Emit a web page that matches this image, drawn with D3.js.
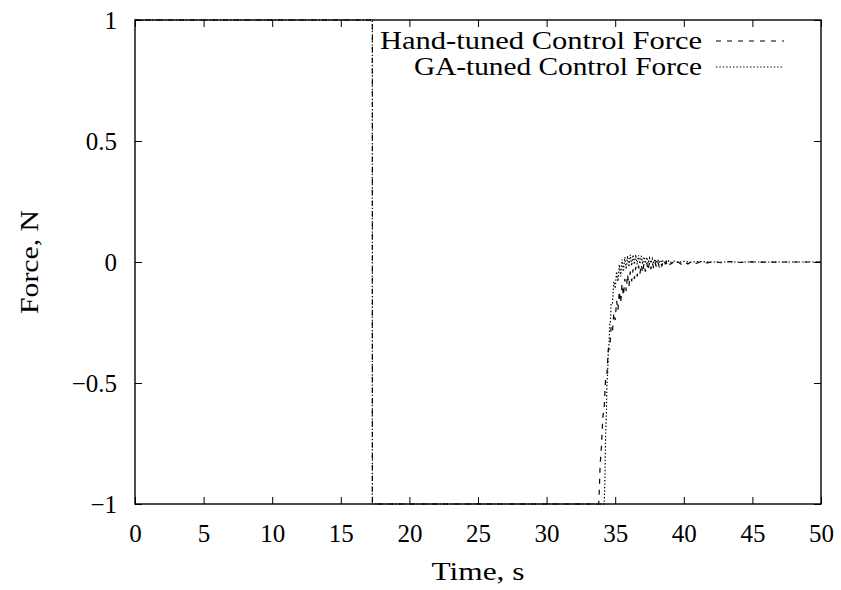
<!DOCTYPE html>
<html>
<head>
<meta charset="utf-8">
<script src="https://cdn.jsdelivr.net/npm/d3@7"></script>
<style>
  html, body { margin: 0; padding: 0; background: #fff; }
  svg { display: block; }
  text { font-family: "Liberation Serif", "DejaVu Serif", serif; fill: #000; }
</style>
</head>
<body>
<svg id="chart" width="841" height="590"></svg>
<script>
// ---- data ----
const xTicks = [0, 5, 10, 15, 20, 25, 30, 35, 40, 45, 50];
const yTicks = [-1, -0.5, 0, 0.5, 1];
const yTickLabels = ["\u22121", "\u22120.5", "0", "0.5", "1"];
const seriesNames = ["Hand-tuned Control Force", "GA-tuned Control Force"];

const handTime = [0, 17.3, 17.3, 33.8, 33.85, 33.9, 34.0, 34.1, 34.2, 34.3, 34.4, 34.5, 34.6, 34.7, 34.8, 34.9,
  35.0, 35.1, 35.2, 35.3, 35.4, 35.5, 35.6, 35.7, 35.8, 35.9, 36.0, 36.1, 36.2, 36.3, 36.4, 36.5, 36.6, 36.7,
  36.8, 36.9, 37.0, 37.1, 37.2, 37.3, 37.4, 37.5, 37.6, 37.7, 37.8, 37.9, 38.0, 38.1, 38.2, 38.3, 38.4, 38.5,
  38.6, 38.7, 38.8, 38.9, 39.0, 39.2, 39.4, 39.6, 39.8, 40.0, 40.3, 40.6, 40.9, 41.3, 41.7, 42.2, 42.7, 43.3,
  44.0, 45.0, 46.0, 47.0, 50.0];
const handForce = [1, 1, -1, -1, -0.93, -0.84, -0.76, -0.64, -0.60, -0.48, -0.46, -0.36, -0.36, -0.27, -0.29, -0.21,
  -0.24, -0.16, -0.20, -0.12, -0.17, -0.09, -0.14, -0.07, -0.12, -0.05, -0.10, -0.04, -0.08, -0.03, -0.07, -0.02, -0.06, -0.015,
  -0.05, -0.01, -0.045, -0.005, -0.04, -0.005, -0.035, 0.0, -0.03, 0.0, -0.025, 0.0, -0.02, 0.002, -0.018, 0.0, -0.016, 0.0,
  -0.014, 0.0, -0.012, 0.0, -0.01, -0.002, -0.012, 0.0, -0.009, 0.002, -0.008, 0.003, -0.006, 0.003, -0.004, 0.002, -0.003, 0.002,
  -0.002, 0.001, -0.001, 0, 0];

const gaTime = [0, 17.3, 17.3, 34.2, 34.25, 34.3, 34.35, 34.4, 34.45, 34.5, 34.55, 34.6, 34.65, 34.7, 34.8, 34.9,
  35.0, 35.1, 35.2, 35.3, 35.4, 35.5, 35.6, 35.7, 35.8, 35.9, 36.0, 36.1, 36.2, 36.3, 36.4, 36.5, 36.6, 36.7,
  36.8, 36.9, 37.0, 37.1, 37.2, 37.3, 37.4, 37.5, 37.6, 37.7, 37.8, 37.9, 38.0, 38.1, 38.2, 38.3, 38.4, 38.5,
  38.6, 38.7, 38.8, 38.9, 39.0, 39.3, 39.6, 40.0, 40.5, 41.0, 42.0, 50.0];
const gaForce = [1, 1, -1, -1, -0.9, -0.72, -0.64, -0.50, -0.46, -0.36, -0.34, -0.25, -0.25, -0.17, -0.17, -0.08,
  -0.11, -0.04, -0.08, -0.01, -0.06, 0.01, -0.04, 0.02, -0.03, 0.025, -0.02, 0.03, -0.015, 0.03, -0.01, 0.03, -0.01, 0.028,
  -0.008, 0.025, -0.008, 0.022, -0.006, 0.02, -0.006, 0.016, -0.005, 0.014, -0.004, 0.012, -0.004, 0.01, -0.003, 0.008, -0.003, 0.007,
  -0.002, 0.006, -0.002, 0.005, -0.002, 0.004, -0.002, 0.003, -0.001, 0.002, 0, 0];

// ---- layout ----
const svg = d3.select("#chart");
const L = 135, R = 821, T = 20, B = 504;
const x = d3.scaleLinear().domain([0, 50]).range([L, R]);
const y = d3.scaleLinear().domain([-1, 1]).range([B, T]);
const fs = 25;
const tickLen = 7;

// series lines
const line = d3.line().x(d => x(d[0])).y(d => y(d[1]));
const handData = handTime.map((t, i) => [t, handForce[i]]);
const gaData = gaTime.map((t, i) => [t, gaForce[i]]);

svg.append("path").datum(handData).attr("d", line)
  .attr("fill", "none").attr("stroke", "#000").attr("stroke-width", 1.2)
  .attr("stroke-dasharray", "5,6");
svg.append("path").datum(gaData).attr("d", line)
  .attr("fill", "none").attr("stroke", "#000").attr("stroke-width", 1.2)
  .attr("stroke-dasharray", "1.4,2");

// axes (ticks inward, mirrored)
const axB = d3.axisBottom(x).tickValues(xTicks).tickSize(-tickLen).tickPadding(20).tickFormat(d3.format("d"));
const axT = d3.axisTop(x).tickValues(xTicks).tickSize(-tickLen).tickFormat("");
const axL = d3.axisLeft(y).tickValues(yTicks).tickSize(-tickLen).tickPadding(18)
  .tickFormat((d, i) => yTickLabels[i]);
const axR = d3.axisRight(y).tickValues(yTicks).tickSize(-tickLen).tickFormat("");

function style(g) {
  g.select(".domain").remove();
  g.selectAll(".tick line").attr("stroke", "#000").attr("stroke-width", 1);
  g.selectAll(".tick text").style("font-size", fs + "px")
    .style("font-family", "'Liberation Serif', serif").attr("fill", "#000");
}
svg.append("g").attr("transform", `translate(0,${B})`).call(axB).call(style);
svg.append("g").attr("transform", `translate(0,${T})`).call(axT).call(style);
svg.append("g").attr("transform", `translate(${L},0)`).call(axL).call(style);
svg.append("g").attr("transform", `translate(${R},0)`).call(axR).call(style);

// frame
svg.append("rect").attr("x", L).attr("y", T).attr("width", R - L).attr("height", B - T)
  .attr("fill", "none").attr("stroke", "#000").attr("stroke-width", 1.4);

// axis titles
svg.append("text").attr("x", 478).attr("y", 580).attr("text-anchor", "middle")
  .attr("textLength", 93).attr("lengthAdjust", "spacingAndGlyphs")
  .style("font-size", fs + "px").text("Time, s");
svg.append("text").attr("transform", `translate(38,${(T + B) / 2}) rotate(-90)`)
  .attr("text-anchor", "middle").attr("textLength", 104).attr("lengthAdjust", "spacingAndGlyphs")
  .style("font-size", fs + "px").text("Force, N");

// legend
const legTextX = 702, legSampleX0 = 716, legSampleX1 = 784;
const legRows = [41, 67];
const legWidths = [322, 288];
const dashes = ["5,6", "1.4,2"];
seriesNames.forEach((name, i) => {
  svg.append("text").attr("x", legTextX).attr("y", legRows[i] + 8).attr("text-anchor", "end")
    .attr("textLength", legWidths[i]).attr("lengthAdjust", "spacingAndGlyphs")
    .style("font-size", fs + "px").text(name);
  svg.append("line").attr("x1", legSampleX0).attr("x2", legSampleX1)
    .attr("y1", legRows[i]).attr("y2", legRows[i])
    .attr("stroke", "#000").attr("stroke-width", 1.2).attr("stroke-dasharray", dashes[i]);
});
</script>
</body>
</html>
